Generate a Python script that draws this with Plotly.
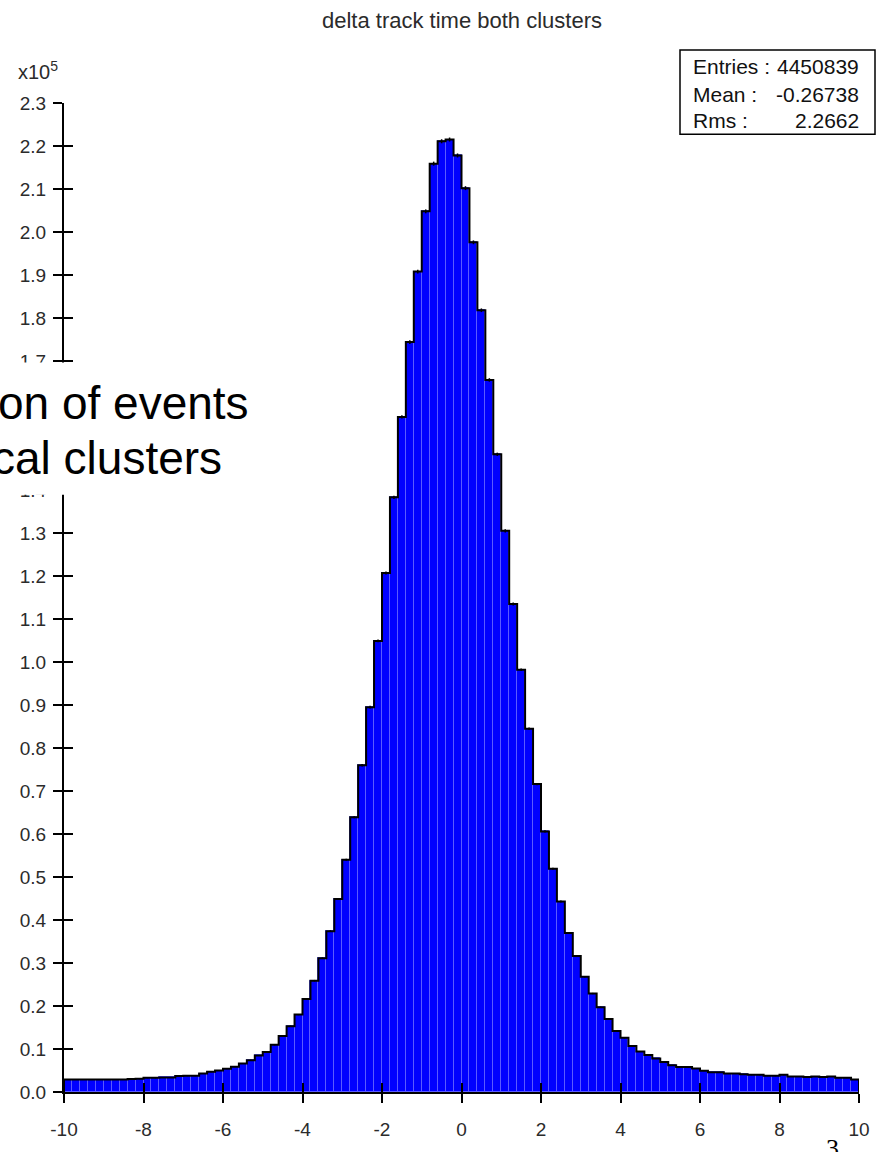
import numpy as np
import plotly.graph_objects as go

# ---- data -------------------------------------------------------------
title = "delta track time both clusters"
bin_lo, bin_hi, n_bins = -10.0, 10.0, 100

# bin contents (entries per 0.2 bin)
counts = [
    2900, 2900, 2900, 2900, 2900, 2900, 2900, 2900, 3000, 3100,
    3300, 3300, 3400, 3400, 3700, 3800, 3800, 4300, 4700, 5000,
    5400, 5900, 6600, 7400, 8500, 9300, 11000, 13000, 15300, 18000,
    21600, 25900, 31100, 37400, 44900, 54000, 63900, 76000, 89500, 104900,
    120700, 138300, 157000, 174400, 190800, 204800, 215900, 221100, 221500, 217800,
    210200, 197600, 181800, 165600, 148300, 130500, 113500, 98200, 84500, 71600,
    60600, 51900, 44300, 37000, 31600, 26800, 22900, 19700, 17000, 14200,
    12600, 10700, 9400, 8600, 7800, 7000, 6200, 5800, 5800, 5450,
    4950, 4600, 4600, 4300, 4300, 4100, 4000, 4000, 3800, 3800,
    4000, 3600, 3600, 3500, 3600, 3500, 3600, 3300, 3300, 2900,
]
assert len(counts) == n_bins

stat_names = ["Entries :", "Mean :", "Rms :"]
stat_values = ["4450839", "-0.26738", "2.2662"]

x_tick_vals = [-10, -8, -6, -4, -2, 0, 2, 4, 6, 8, 10]
x_tick_text = ["-10", "-8", "-6", "-4", "-2", "0", "2", "4", "6", "8", "10"]
y_tick_vals = [0.0, 0.1, 0.2, 0.3, 0.4, 0.5, 0.6, 0.7, 0.8, 0.9, 1.0, 1.1,
               1.2, 1.3, 1.4, 1.5, 1.6, 1.7, 1.8, 1.9, 2.0, 2.1, 2.2, 2.3]
y_exponent = 5

overlay_lines = ["on of events", "cal clusters"]
page_number = "3"

# ---- derived quantities -------------------------------------------------
scale = 10.0 ** y_exponent
edges = np.linspace(bin_lo, bin_hi, n_bins + 1)
centers = 0.5 * (edges[:-1] + edges[1:])
width = edges[1] - edges[0]
heights = np.array(counts, dtype=float) / scale
errors = np.sqrt(np.array(counts, dtype=float)) / scale

# outline of the histogram as a closed step curve
step_x = np.concatenate([[edges[0]], edges, [edges[-1]]])
step_y = np.concatenate([[0.0], heights, [heights[-1], 0.0]])

# ---- page geometry ------------------------------------------------------
W, H = 885, 1152
PL, PR, PT, PB = 64, 859, 103, 1113


def px(x):
    return (x - PL) / (PR - PL)


def py(y):
    return (PB - y) / (PB - PT)


FONT = "Liberation Sans, Arial, sans-serif"
TXT = "#2b2b2b"

fig = go.Figure()

fig.add_trace(go.Bar(
    x=centers, y=heights, width=width,
    marker=dict(color="#0000ff", line=dict(color="#5a5aff", width=1)),
    hoverinfo="skip", showlegend=False,
))

fig.add_trace(go.Scatter(
    x=step_x, y=step_y, mode="lines", line_shape="hv",
    line=dict(color="black", width=2),
    xaxis="x2", yaxis="y2", hoverinfo="skip", showlegend=False,
))

fig.add_trace(go.Scatter(
    x=centers, y=heights, mode="markers", marker=dict(size=1, color="black"),
    error_y=dict(type="data", array=errors, visible=True,
                 color="black", thickness=1.5, width=0),
    xaxis="x2", yaxis="y2", hoverinfo="skip", showlegend=False,
))

axis_common = dict(showgrid=False, zeroline=False, tickcolor="black",
                   tickwidth=2, ticklen=9)

fig.update_layout(
    width=W, height=H,
    margin=dict(l=PL, r=W - PR, t=PT, b=H - PB, pad=0),
    paper_bgcolor="white", plot_bgcolor="rgba(0,0,0,0)",
    bargap=0,
    xaxis=dict(range=[bin_lo, bin_hi], showline=True, linecolor="black",
               linewidth=2, ticks="outside", tickvals=x_tick_vals,
               ticktext=x_tick_text, ticklabelstandoff=10,
               tickfont=dict(family=FONT, size=19, color=TXT), **axis_common),
    yaxis=dict(range=[0, y_tick_vals[-1]], showline=True, linecolor="black",
               linewidth=2, ticks="outside", tickvals=y_tick_vals,
               ticktext=[f"{v:.1f}" for v in y_tick_vals], ticklabelstandoff=3,
               tickfont=dict(family=FONT, size=19, color=TXT), **axis_common),
    xaxis2=dict(range=[bin_lo, bin_hi], overlaying="x", anchor="y2",
                ticks="inside", tickvals=x_tick_vals, showticklabels=False,
                showline=False, **axis_common),
    yaxis2=dict(range=[0, y_tick_vals[-1]], overlaying="y", anchor="x2",
                ticks="inside", tickvals=y_tick_vals, showticklabels=False,
                showline=False, **axis_common),
    showlegend=False,
)

shapes = [
    # statistics box
    dict(type="rect", xref="paper", yref="paper",
         x0=px(680), x1=px(875), y0=py(135), y1=py(49),
         line=dict(color="black", width=1.5), fillcolor="white", layer="above"),
    # white text panel laid over the left of the plot
    dict(type="rect", xref="paper", yref="paper",
         x0=px(-5), x1=px(300), y0=py(503), y1=py(368),
         line=dict(width=0), fillcolor="white", layer="above"),
]

annotations = [
    dict(text=title, xref="paper", yref="paper", x=px(462), y=py(19),
         xanchor="center", yanchor="middle", showarrow=False,
         font=dict(family=FONT, size=22, color=TXT)),
    dict(text=f"x10<sup>{y_exponent}</sup>", xref="paper", yref="paper",
         x=px(16), y=py(70), xanchor="left", yanchor="middle", showarrow=False,
         font=dict(family=FONT, size=20, color=TXT)),
]

row_y = [66, 94.5, 121]
for name, val, ry in zip(stat_names, stat_values, row_y):
    annotations.append(dict(text=name, xref="paper", yref="paper", x=px(691),
                            y=py(ry), xanchor="left", yanchor="middle",
                            showarrow=False,
                            font=dict(family=FONT, size=21, color="#111")))
    annotations.append(dict(text=val, xref="paper", yref="paper", x=px(861),
                            y=py(ry), xanchor="right", yanchor="middle",
                            showarrow=False,
                            font=dict(family=FONT, size=21, color="#111")))

line_right = [251, 224]
line_mid = [409, 466]
for txt, xr, ym in zip(overlay_lines, line_right, line_mid):
    annotations.append(dict(text=txt, xref="paper", yref="paper", x=px(xr),
                            y=py(ym), xanchor="right", yanchor="middle",
                            showarrow=False,
                            font=dict(family=FONT, size=46, color="black")))

annotations.append(dict(text=page_number, xref="paper", yref="paper",
                        x=px(832), y=py(1154), xanchor="center", yanchor="top",
                        showarrow=False,
                        font=dict(family="Liberation Serif, Times New Roman, serif",
                                  size=26, color="black")))

fig.update_layout(shapes=shapes, annotations=annotations)

fig.write_html("out.html")
